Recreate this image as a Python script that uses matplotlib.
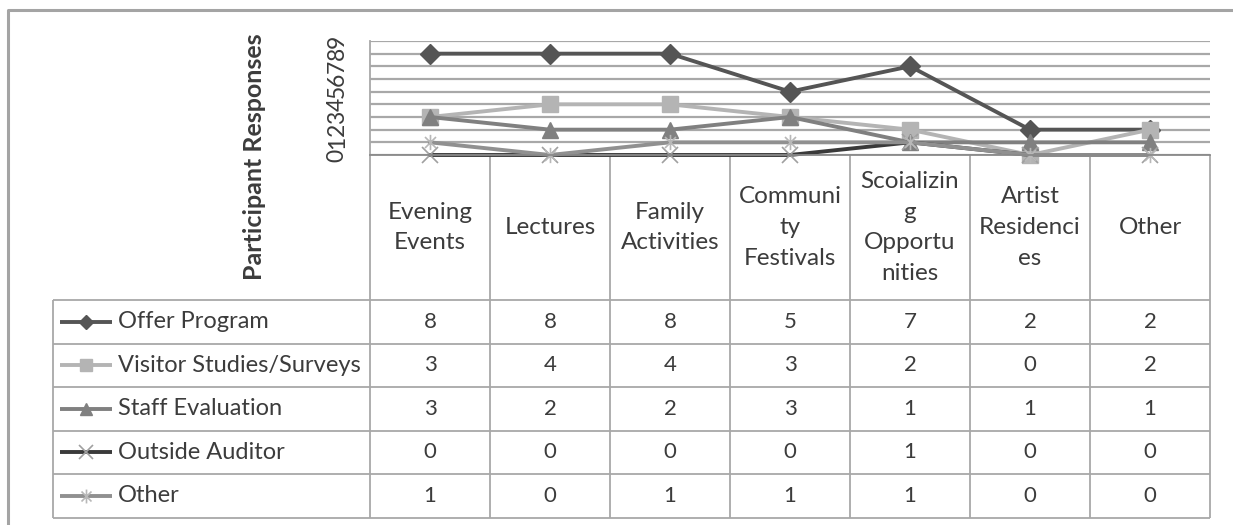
import matplotlib
matplotlib.use("Agg")
import matplotlib.pyplot as plt
from matplotlib.path import Path
from matplotlib.transforms import blended_transform_factory

# ---- data -------------------------------------------------------------
categories = ["Evening\nEvents", "Lectures", "Family\nActivities",
              "Communi\nty\nFestivals", "Scoializin\ng\nOpportu\nnities",
              "Artist\nResidenci\nes", "Other"]
series_names = ["Offer Program", "Visitor Studies/Surveys", "Staff Evaluation",
                "Outside Auditor", "Other"]
offer_program = [8, 8, 8, 5, 7, 2, 2]
visitor_studies = [3, 4, 4, 3, 2, 0, 2]
staff_evaluation = [3, 2, 2, 3, 1, 1, 1]
outside_auditor = [0, 0, 0, 0, 1, 0, 0]
other_method = [1, 0, 1, 1, 1, 0, 0]
y_ticks = list(range(10))
y_label = "Participant Responses"

series_values = [offer_program, visitor_studies, staff_evaluation,
                 outside_auditor, other_method]

# ---- styling ------------------------------------------------------------
FONT = "Lato"
TXT = "#3c3c3c"
GRID = "#a8a8a8"
FS = 16.5
plt.rcParams["font.family"] = [FONT, "DejaVu Sans"]

star = Path([(0, -1), (0, 1), (-0.72, -0.72), (0.72, 0.72),
             (-0.72, 0.72), (0.72, -0.72)],
            [Path.MOVETO, Path.LINETO, Path.MOVETO, Path.LINETO,
             Path.MOVETO, Path.LINETO])

styles = [
    dict(color="#555555", marker="D", ms=10, mfc="#555555", mec="#555555", mew=1),
    dict(color="#b4b4b4", marker="s", ms=11, mfc="#b4b4b4", mec="#b4b4b4", mew=1),
    dict(color="#808080", marker="^", ms=11, mfc="#808080", mec="#808080", mew=1),
    dict(color="#3a3a3a", marker="x", ms=11, mfc="none", mec="#a0a0a0", mew=1.2),
    dict(color="#909090", marker=star, ms=11, mfc="none", mec="#b8b8b8", mew=1.2),
]
legend_ms = [7, 8, 9, 10, 10]

# ---- figure ------------------------------------------------------------
W, H = 1233, 525
fig = plt.figure(figsize=(W / 100, H / 100), dpi=100)
fig.patch.set_facecolor("white")

# plot area (pixel layout converted to figure fractions)
px_left, px_top, px_right, px_bottom = 370, 41, 1210, 155
ax = fig.add_axes([px_left / W, 1 - px_bottom / H,
                   (px_right - px_left) / W, (px_bottom - px_top) / H])
ax.set_zorder(2)
ax.set_xlim(-0.5, len(categories) - 0.5)
ax.set_ylim(0, 9)
ax.set_xticks([])
ax.set_yticks(y_ticks)
ax.set_yticklabels([str(t) for t in y_ticks], rotation=90, va="center",
                   fontsize=FS, color=TXT)
ax.tick_params(axis="y", length=0, pad=16)
ax.yaxis.grid(True, color=GRID, lw=1.6)
ax.set_axisbelow(True)
for side in ("top", "right"):
    ax.spines[side].set_visible(False)
ax.spines["left"].set_color(GRID)
ax.spines["left"].set_linewidth(1.3)
ax.spines["bottom"].set_color("#8a8a8a")
ax.spines["bottom"].set_linewidth(1.3)

xs = list(range(len(categories)))
for vals, st in zip(series_values, styles):
    ax.plot(xs, vals, lw=2.8, clip_on=False, solid_joinstyle="round", **st)

# overlay in pixel coordinates for the data table and frame
ov = fig.add_axes([0, 0, 1, 1])
ov.set_zorder(1)
ov.set_xlim(0, W)
ov.set_ylim(H, 0)
ov.axis("off")
ov.patch.set_visible(False)

# outer chart frame
ov.plot([8, 8, W], [H, 10, 10], color="#a4a4a4", lw=2.2,
        solid_capstyle="butt")

# data table grid
n_cols = len(categories)
col_w = (px_right - px_left) / n_cols
tbl_left, tbl_bottom = 53, 517.5
row_top = 300
row_h = (tbl_bottom - row_top) / len(series_names)
line_kw = dict(color=GRID, lw=1.3, solid_capstyle="butt")
for i in range(n_cols + 1):
    x = px_left + col_w * i
    ov.plot([x, x], [px_bottom, tbl_bottom], **line_kw)
ov.plot([tbl_left, tbl_left], [row_top, tbl_bottom], **line_kw)
for r in range(len(series_names) + 1):
    y = row_top + row_h * r
    ov.plot([tbl_left, px_right], [y, y], **line_kw)

# category headers and values, x taken from the plot's category scale
bt = blended_transform_factory(ax.transData, ov.transData)
hdr_y = (px_bottom + row_top) / 2
for j, cat in enumerate(categories):
    ax.text(j, hdr_y, cat, transform=bt, ha="center", va="center",
            fontsize=FS + 1, color=TXT, linespacing=1.56, zorder=5,
            clip_on=False)

for r, (name, vals, st, lms) in enumerate(zip(series_names, series_values,
                                              styles, legend_ms)):
    yc = row_top + row_h * (r + 0.5)
    for j, v in enumerate(vals):
        ax.text(j, yc, str(v), transform=bt, ha="center", va="center",
                fontsize=FS - 0.5, color=TXT, clip_on=False)
    ov.plot([60, 112], [yc, yc], lw=2.8, color=st["color"],
            solid_capstyle="butt")
    key = dict(st)
    key["ms"] = lms
    ov.plot([86], [yc], lw=0, **key)
    ov.text(118, yc, name, ha="left", va="center", fontsize=FS + 0.5, color=TXT)

# axis title
fig.text(254 / W, 1 - 157 / H, y_label, rotation=90, ha="center",
         va="center", fontsize=18, fontweight="bold", color=TXT)

fig.savefig("out.png", dpi=100, facecolor="white")
